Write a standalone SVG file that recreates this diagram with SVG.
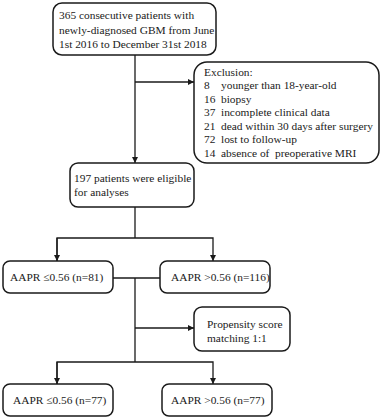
<svg xmlns="http://www.w3.org/2000/svg" width="381" height="420" viewBox="0 0 381 420">
<style>
.box{fill:#fff;stroke:#1a1a1a;stroke-width:1.5}
.t{font-family:"Liberation Serif","Times New Roman",serif;font-size:11.4px;fill:#1a1a1a}
.c{fill:none;stroke:#1a1a1a;stroke-width:1.3}
</style>
<defs>
<marker id="ah" viewBox="0 0 10 10" refX="10" refY="5" markerWidth="6" markerHeight="6" markerUnits="userSpaceOnUse" orient="auto">
<path d="M0,0 L10,5 L0,10 z" fill="#1a1a1a"/>
</marker>
</defs>
<rect width="381" height="420" fill="#fff"/>
<g id="connectors">
<line class="c" x1="135" y1="55" x2="135" y2="163" marker-end="url(#ah)"/>
<line class="c" x1="135" y1="82" x2="194" y2="82" marker-end="url(#ah)"/>
<line class="c" x1="135" y1="207" x2="135" y2="238"/>
<polyline class="c" points="57,261 57,238 213,238 213,261" marker-end="url(#ah)"/>
<line class="c" x1="57" y1="238" x2="57" y2="261" marker-end="url(#ah)"/>
<line class="c" x1="113" y1="278" x2="160" y2="278"/>
<line class="c" x1="135" y1="278" x2="135" y2="362"/>
<line class="c" x1="135" y1="328" x2="194" y2="328" marker-end="url(#ah)"/>
<polyline class="c" points="57,384 57,362 213,362 213,384" marker-end="url(#ah)"/>
<line class="c" x1="57" y1="362" x2="57" y2="384" marker-end="url(#ah)"/>
</g>
<g id="n-start">
<rect class="box" x="53" y="3" width="163" height="52" rx="9"/>
<text class="t" x="59" y="19">365 consecutive patients with</text>
<text class="t" x="59" y="33.5">newly-diagnosed GBM from June</text>
<text class="t" x="59" y="48">1st 2016 to December 31st 2018</text>
</g>
<g id="n-exclusion">
<rect class="box" x="194" y="62" width="185" height="101" rx="13"/>
<text class="t" x="204" y="75.5">Exclusion:</text>
<text class="t" x="204" y="89">8</text><text class="t" x="221" y="89">younger than 18-year-old</text>
<text class="t" x="204" y="102.5">16</text><text class="t" x="221" y="102.5">biopsy</text>
<text class="t" x="204" y="116">37</text><text class="t" x="221" y="116">incomplete clinical data</text>
<text class="t" x="204" y="129.5">21</text><text class="t" x="221" y="129.5">dead within 30 days after surgery</text>
<text class="t" x="204" y="143">72</text><text class="t" x="221" y="143">lost to follow-up</text>
<text class="t" x="204" y="156.5">14</text><text class="t" x="221" y="156.5">absence of&#160; preoperative MRI</text>
</g>
<g id="n-eligible">
<rect class="box" x="70" y="163" width="124" height="44" rx="8"/>
<text class="t" x="74" y="182">197 patients were eligible</text>
<text class="t" x="74" y="196">for analyses</text>
</g>
<g id="n-low1">
<rect class="box" x="3" y="261" width="110" height="32" rx="7"/>
<text class="t" x="10" y="281">AAPR ≤0.56 (n=81)</text>
</g>
<g id="n-high1">
<rect class="box" x="160" y="261" width="110" height="32" rx="7"/>
<text class="t" x="171" y="281">AAPR &gt;0.56 (n=116)</text>
</g>
<g id="n-psm">
<rect class="box" x="194" y="307" width="96" height="44" rx="8"/>
<text class="t" x="207" y="328">Propensity score</text>
<text class="t" x="207" y="342">matching 1:1</text>
</g>
<g id="n-low2">
<rect class="box" x="3" y="384" width="110" height="32" rx="7"/>
<text class="t" x="13" y="404">AAPR ≤0.56 (n=77)</text>
</g>
<g id="n-high2">
<rect class="box" x="162" y="384" width="110" height="32" rx="7"/>
<text class="t" x="171" y="404">AAPR &gt;0.56 (n=77)</text>
</g>
</svg>
